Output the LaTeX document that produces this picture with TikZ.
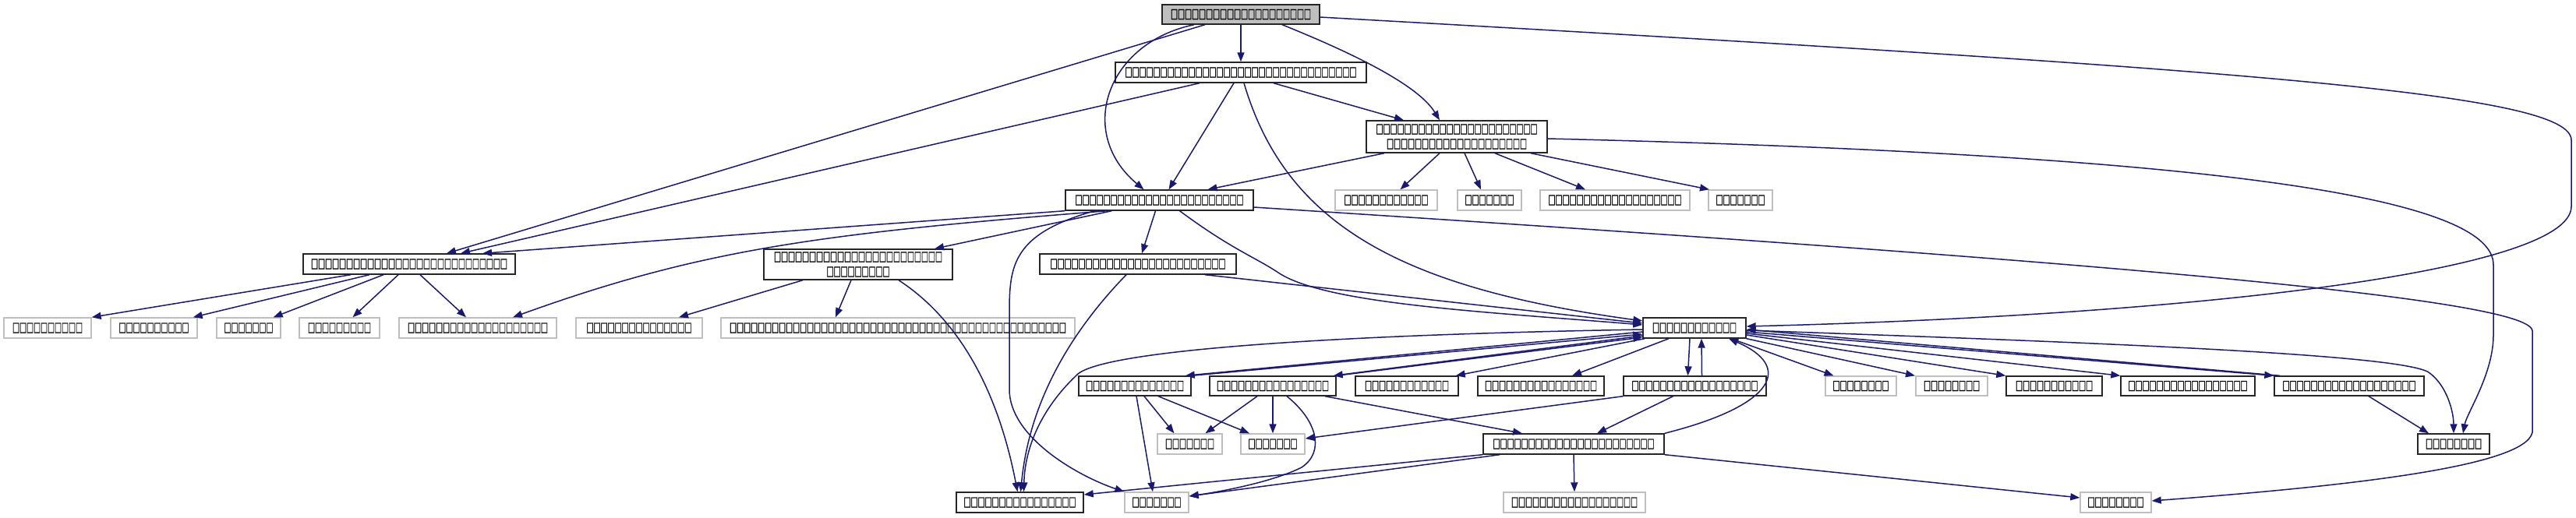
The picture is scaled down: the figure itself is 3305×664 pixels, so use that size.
\documentclass[tikz,border=0pt]{standalone}
\usepackage{fontspec}
\usetikzlibrary{arrows.meta}
\newfontfamily\tofu[FakeStretch=0.56, FakeBold=1.2]{DejaVu Sans}
\definecolor{edgec}{HTML}{191970}
\definecolor{lightb}{HTML}{BFBFBF}
\tikzset{
  nd/.style={draw=black!85, line width=1.4pt, fill=white, inner sep=0pt,
    minimum height=26pt, text=black, font={\tofu\fontsize{17}{19}\selectfont}},
  lt/.style={nd, draw=lightb},
  topnd/.style={nd, fill=lightb, minimum height=25pt},
  twol/.style={nd, align=center},
  e/.style={draw=edgec, line width=1.5pt, -{Triangle[length=12pt,width=9pt]}}
}
\begin{document}
\begin{tikzpicture}[x=1pt,y=-1pt]
\useasboundingbox (0,0) rectangle (3305,664);
% nodes
\node[topnd, minimum width=202pt] (N0) at (1592,18.5) {□□□□□□□□□□□□□□□□□□□□};
\node[nd, minimum width=322pt] (N1) at (1592,93) {□□□□□□□□□□□□□□□□□□□□□□□□□□□□□□□□□};
\node[twol, minimum width=232pt, minimum height=41pt] (N2) at (1869,175.5) {□□□□□□□□□□□□□□□□□□□□□□□\\□□□□□□□□□□□□□□□□□□□□};
\node[nd, minimum width=241pt] (N3) at (1487.5,257) {□□□□□□□□□□□□□□□□□□□□□□□□};
\node[lt, minimum width=131pt] (L1) at (1778.5,257) {□□□□□□□□□□□□};
\node[lt, minimum width=82pt] (L2) at (1911,257) {□□□□□□□};
\node[lt, minimum width=192pt] (L3) at (2072,257) {□□□□□□□□□□□□□□□□□□□};
\node[lt, minimum width=82pt] (L4) at (2233,257) {□□□□□□□};
\node[nd, minimum width=272pt] (N4) at (525,339) {□□□□□□□□□□□□□□□□□□□□□□□□□□□□};
\node[twol, minimum width=242pt, minimum height=39pt] (N5) at (1101,339.5) {□□□□□□□□□□□□□□□□□□□□□□□□\\□□□□□□□□□};
\node[nd, minimum width=252pt] (N6) at (1460,339) {□□□□□□□□□□□□□□□□□□□□□□□□□};
\node[lt, minimum width=112pt] (C1) at (61,421) {□□□□□□□□□□};
\node[lt, minimum width=111pt] (C2) at (197.5,421) {□□□□□□□□□□};
\node[lt, minimum width=82pt] (C3) at (319,421) {□□□□□□□};
\node[lt, minimum width=103pt] (C4) at (435.5,421) {□□□□□□□□□};
\node[lt, minimum width=202pt] (C5) at (613,421) {□□□□□□□□□□□□□□□□□□□□};
\node[lt, minimum width=162pt] (C6) at (820,421) {□□□□□□□□□□□□□□□};
\node[lt, minimum width=454pt] (C7) at (1152,421) {□□□□□□□□□□□□□□□□□□□□□□□□□□□□□□□□□□□□□□□□□□□□□□□□};
\node[nd, minimum width=132pt] (N7) at (2174,421) {□□□□□□□□□□□□};
\node[nd, minimum width=144pt, minimum height=25pt] (R1) at (1456,495.5) {□□□□□□□□□□□□□□};
\node[nd, minimum width=162pt, minimum height=25pt] (R2) at (1633,495.5) {□□□□□□□□□□□□□□□□};
\node[nd, minimum width=132pt, minimum height=25pt] (R3) at (1805,495.5) {□□□□□□□□□□□□};
\node[nd, minimum width=162pt, minimum height=25pt] (R4) at (1977,495.5) {□□□□□□□□□□□□□□□□};
\node[nd, minimum width=183pt, minimum height=25pt] (R5) at (2174.5,495.5) {□□□□□□□□□□□□□□□□□□};
\node[lt, minimum width=91pt, minimum height=25pt] (R6) at (2387.5,495.5) {□□□□□□□□};
\node[lt, minimum width=92pt, minimum height=25pt] (R7) at (2504,495.5) {□□□□□□□□};
\node[nd, minimum width=123pt, minimum height=25pt] (R8) at (2635.5,495.5) {□□□□□□□□□□□};
\node[nd, minimum width=172pt, minimum height=25pt] (R9) at (2807,495.5) {□□□□□□□□□□□□□□□□□};
\node[nd, minimum width=192pt, minimum height=25pt] (R10) at (3014,495.5) {□□□□□□□□□□□□□□□□□□□};
\node[lt, minimum width=83pt] (S1) at (1526.5,570) {□□□□□□□};
\node[lt, minimum width=82pt] (S2) at (1633,570) {□□□□□□□};
\node[nd, minimum width=232pt] (S3) at (2019,570) {□□□□□□□□□□□□□□□□□□□□□□□};
\node[nd, minimum width=92pt] (S4) at (3148,570) {□□□□□□□□};
\node[nd, minimum width=163pt] (T1) at (1308.5,645) {□□□□□□□□□□□□□□□□};
\node[lt, minimum width=82pt] (T2) at (1484,645) {□□□□□□□};
\node[lt, minimum width=182pt] (T3) at (2020,645) {□□□□□□□□□□□□□□□□□□};
\node[lt, minimum width=91pt] (T4) at (2714.5,645) {□□□□□□□□};
% edges from N0
\draw[e] (N0) -- (N1);
\draw[e] ([xshift=53pt]N0.south) .. controls (1740,70) and (1820,110) .. ([xshift=-22pt]N2.north);
\draw[e] ([xshift=-60pt]N0.south) .. controls (1420,55) and (1380,170) .. ([xshift=-20pt]N3.north);
\draw[e] ([xshift=-46pt]N0.south) -- ([xshift=48pt]N4.north);
\draw[e] ([yshift=-3.5pt]N0.east) .. controls (2900,90) and (3299,120) .. (3299,180) -- (3299,265) .. controls (3299,350) and (2800,405) .. ([yshift=2pt]N7.east);
% from N1
\draw[e] ([xshift=42pt]N1.south) -- ([xshift=-68pt]N2.north);
\draw[e] ([xshift=-9pt]N1.south) -- ([xshift=12pt]N3.north);
\draw[e] ([xshift=-53pt]N1.south) -- ([xshift=66pt]N4.north);
\draw[e] ([xshift=4pt]N1.south) .. controls (1650,290) and (1800,370) .. ([yshift=9pt]N7.west);
% from N2
\draw[e] ([xshift=-93pt]N2.south) -- ([xshift=62pt]N3.north);
\draw[e] ([xshift=-22pt]N2.south) -- ([xshift=18pt]L1.north);
\draw[e] ([xshift=10pt]N2.south) -- ([xshift=-11pt]L2.north);
\draw[e] ([xshift=49pt]N2.south) -- ([xshift=-38pt]L3.north);
\draw[e] ([xshift=95pt]N2.south) -- ([xshift=-40pt]L4.north);
\draw[e] ([yshift=-2.5pt]N2.east) .. controls (2900,200) and (3199,260) .. (3199,340) -- (3199,430) .. controls (3199,480) and (3165,530) .. ([xshift=12pt]S4.north);
% from N3
\draw[e] (N3.south west) -- ([xshift=94pt]N4.north);
\draw[e] ([xshift=-67pt]N3.south) .. controls (1050,300) and (900,320) .. ([xshift=45pt]C5.north);
\draw[e] ([xshift=-61pt]N3.south) -- ([xshift=98pt]N5.north);
\draw[e] ([xshift=-5pt]N3.south) -- ([xshift=5pt]N6.north);
\draw[e] ([xshift=26pt]N3.south) .. controls (1580,320) and (1610,330) .. (1640,350) .. controls (1700,390) and (1900,400) .. ([yshift=4pt]N7.west);
\draw[e] ([xshift=-83pt]N3.south) .. controls (1300,300) and (1295,340) .. (1295,400) -- (1295,500) .. controls (1295,560) and (1380,610) .. (T2.north west);
\draw[e] ([yshift=-9pt]N3.east) .. controls (2600,330) and (3249,380) .. (3249,425) -- (3249,555) .. controls (3240,600) and (3000,625) .. ([yshift=2pt]T4.east);
% from N4
\draw[e] ([xshift=-75pt]N4.south) -- (C1.north east);
\draw[e] ([xshift=-51pt]N4.south) -- ([xshift=-6pt]C2.north east);
\draw[e] ([xshift=-33pt]N4.south) -- ([xshift=-10pt]C3.north east);
\draw[e] ([xshift=-14pt]N4.south) -- ([xshift=17pt]C4.north);
\draw[e] ([xshift=14pt]N4.south) -- ([xshift=-15pt]C5.north);
% from N5, N6
\draw[e] ([xshift=-71pt]N5.south) -- ([xshift=51pt]C6.north);
\draw[e] ([xshift=-9pt]N5.south) -- ([xshift=-80pt]C7.north);
\draw[e] ([xshift=52pt]N5.south) .. controls (1230,410) and (1280,500) .. ([xshift=-3pt]T1.north);
\draw[e] ([xshift=-15pt]N6.south) .. controls (1370,430) and (1320,520) .. ([xshift=1pt]T1.north);
\draw[e] ([xshift=86pt]N6.south) -- ([yshift=6pt]N7.west);
% hub N7
\draw[e] ([yshift=-2pt]N7.west) .. controls (1700,430) and (1420,450) .. (1383,480) .. controls (1340,520) and (1315,570) .. ([xshift=5pt]T1.north);
\draw[e] ([yshift=-5pt]N7.west) -- ([xshift=-8pt]R1.north east);
\draw[e] (R1.north east) -- ([yshift=-8pt]N7.west);
\draw[e] ([yshift=-10pt]N7.west) -- ([xshift=-4pt]R2.north east);
\draw[e] (R2.north east) -- ([yshift=-12pt]N7.west);
\draw[e] ([xshift=3pt]N7.south west) -- ([xshift=-4pt]R3.north east);
\draw[e] ([xshift=-33pt]N7.south) -- ([xshift=40pt]R4.north);
\draw[e] ([xshift=-6pt]N7.south) -- ([xshift=-9pt]R5.north);
\draw[e] ([xshift=9pt]R5.north) -- ([xshift=9pt]N7.south);
\draw[e] ([xshift=47pt]N7.south) -- ([xshift=-35pt]R6.north);
\draw[e] (N7.south east) -- ([xshift=-47pt]R7.north);
\draw[e] ([yshift=-9pt]N7.east) -- (R8.north west);
\draw[e] ([yshift=-7pt]N7.east) -- (R9.north west);
\draw[e] ([yshift=-5pt]N7.east) -- (R10.north west);
\draw[e] ([xshift=8pt]R10.north west) -- ([yshift=-2pt]N7.east);
\draw[e] ([yshift=-3pt]N7.east) .. controls (2700,440) and (3080,455) .. (3116,478) .. controls (3140,495) and (3148,530) .. (S4.north);
\draw[e] ([xshift=25pt]R10.south) -- ([xshift=-32pt]S4.north);
\draw[e] (S3.north east) .. controls (2280,520) and (2300,470) .. ([xshift=44pt]N7.south);
% lower rows
\draw[e] ([xshift=12pt]R1.south) -- ([xshift=-20pt]S1.north);
\draw[e] ([xshift=30pt]R1.south) -- ([xshift=-30pt]S2.north);
\draw[e] ([xshift=2pt]R1.south) -- ([xshift=-5pt]T2.north);
\draw[e] ([xshift=-20pt]R2.south) -- ([xshift=20pt]S1.north);
\draw[e] (R2.south) -- (S2.north);
\draw[e] ([xshift=18pt]R2.south) .. controls (1690,540) and (1700,580) .. (1670,600) .. controls (1630,620) and (1560,632) .. ([yshift=8pt]T2.east);
\draw[e] ([xshift=67pt]R2.south) -- ([xshift=-66pt]S3.north);
\draw[e] (R5.south west) -- ([yshift=7pt]S2.east);
\draw[e] ([xshift=-28pt]R5.south) -- ([xshift=30pt]S3.north);
\draw[e] (S3.south west) -- ([yshift=10pt]T1.east);
\draw[e] ([xshift=22pt]S3.south west) -- ([yshift=8pt]T2.east);
\draw[e] (S3.south) -- (T3.north);
\draw[e] (S3.south east) -- ([yshift=6pt]T4.west);
\end{tikzpicture}
\end{document}
